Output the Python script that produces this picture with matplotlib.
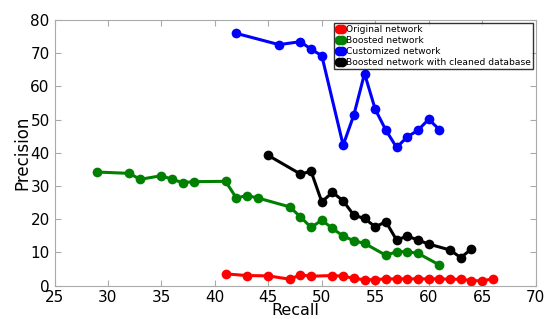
import matplotlib
matplotlib.use('Agg')
import matplotlib.pyplot as plt

# Recall / precision for each model
orig_recall = [41, 43, 45, 47, 48, 49, 51, 52, 53, 54, 55, 56, 57, 58, 59, 60, 61, 62, 63, 64, 65, 66]
orig_precision = [3.5, 3.0, 2.9, 1.9, 3.2, 2.8, 3.0, 2.8, 2.2, 1.7, 1.8, 2.0, 2.0, 2.0, 2.0, 2.0, 2.0, 1.9, 1.9, 1.5, 1.4, 2.0]

boost_recall = [29, 32, 33, 35, 36, 37, 38, 41, 42, 43, 44, 47, 48, 49, 50, 51, 52, 53, 54, 56, 57, 58, 59, 61]
boost_precision = [34.2, 33.8, 32.0, 33.1, 32.0, 31.0, 31.3, 31.4, 26.4, 27.1, 26.4, 23.7, 20.7, 17.5, 19.7,
                   17.2, 14.9, 13.5, 12.7, 9.1, 10.2, 10.2, 9.7, 6.2]

custom_recall = [42, 46, 48, 49, 50, 52, 53, 54, 55, 56, 57, 58, 59, 60, 61]
custom_precision = [76.0, 72.6, 73.5, 71.2, 69.3, 42.3, 51.4, 63.9, 53.1, 46.8, 41.6, 44.8, 46.8, 50.1, 47.0]

clean_recall = [45, 48, 49, 50, 51, 52, 53, 54, 55, 56, 57, 58, 59, 60, 62, 63, 64]
clean_precision = [39.2, 33.6, 34.4, 25.2, 28.1, 25.5, 21.2, 20.2, 17.7, 19.2, 13.7, 14.9, 13.7, 12.5,
                   10.7, 8.4, 11.0]

fig = plt.figure(figsize=(5.51, 3.19), dpi=100)
ax = fig.add_axes([0.099, 0.105, 0.873, 0.832])

kw = dict(marker='o', linewidth=2.2, markersize=7, markeredgewidth=0)
ax.plot(orig_recall, orig_precision, color='red', label='Original network', **kw)
ax.plot(boost_recall, boost_precision, color='green', label='Boosted network', **kw)
ax.plot(custom_recall, custom_precision, color='blue', label='Customized network', **kw)
ax.plot(clean_recall, clean_precision, color='black', label='Boosted network with cleaned database', **kw)

ax.set_xlim(25, 70)
ax.set_ylim(0, 80)
ax.set_xlabel('Recall', fontsize=11.5, labelpad=-1.5)
ax.set_ylabel('Precision', fontsize=12, labelpad=-1)
ax.tick_params(direction='in', top=True, right=True, labelsize=11, color='#aaaaaa', length=4)
[s.set_color('#aaaaaa') for s in ax.spines.values()]

leg = ax.legend(loc='upper right', prop={'size': 6.6}, numpoints=2, fancybox=False, borderpad=0.25,
                handlelength=0.9, handletextpad=0.1, labelspacing=0.22, borderaxespad=0.3)
leg.get_frame().set_edgecolor('black')

plt.savefig('out.png', dpi=100)
